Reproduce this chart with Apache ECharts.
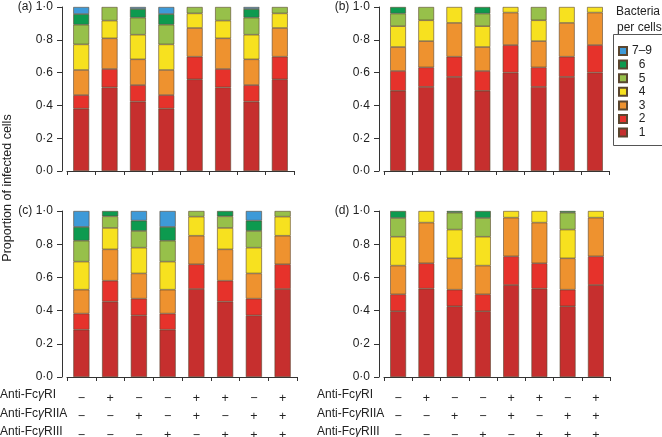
<!DOCTYPE html>
<html><head><meta charset="utf-8">
<script src="https://cdn.jsdelivr.net/npm/echarts@6/dist/echarts.min.js"></script>
<style>html,body{margin:0;padding:0;background:#fff}#c{width:662px;height:437px}</style>
</head><body><div id="c"></div>
<script>
// Categories (8 treatment combinations) and table signs
const categories = ['1','2','3','4','5','6','7','8'];
const antiRI   = ['−','+','−','−','+','+','−','+'];
const antiRIIA = ['−','−','+','−','+','−','+','+'];
const antiRIII = ['−','−','−','+','−','+','+','+'];
const rowLabels = ['RI','RIIA','RIII'];
const levels = ['1','2','3','4','5','6','7–9'];
const panelLetters = ['(a)','(b)','(c)','(d)'];
const yTicks = [0, 0.2, 0.4, 0.6, 0.8, 1.0];

// Panel (a): one array per bacteria-count level
const a1 = [0.380,0.510,0.423,0.380,0.559,0.510,0.423,0.559];
const a2 = [0.083,0.112,0.101,0.083,0.138,0.112,0.101,0.138];
const a3 = [0.153,0.187,0.157,0.153,0.175,0.187,0.157,0.175];
const a4 = [0.156,0.108,0.150,0.156,0.089,0.108,0.150,0.089];
const a5 = [0.120,0.083,0.104,0.120,0.039,0.083,0.104,0.039];
const a6 = [0.065,0,0.053,0.065,0,0,0.053,0];
const a7 = [0.043,0,0.012,0.043,0,0,0.012,0];
// Panel (b)
const b1 = [0.489,0.513,0.574,0.489,0.600,0.513,0.574,0.600];
const b2 = [0.121,0.119,0.123,0.121,0.168,0.119,0.123,0.168];
const b3 = [0.146,0.160,0.206,0.146,0.198,0.160,0.206,0.198];
const b4 = [0.127,0.127,0.097,0.127,0.034,0.127,0.097,0.034];
const b5 = [0.077,0.081,0,0.077,0,0.081,0,0];
const b6 = [0.040,0,0,0.040,0,0,0,0];
const b7 = [0,0,0,0,0,0,0,0];
// Panel (c)
const c1 = [0.285,0.454,0.371,0.285,0.530,0.454,0.371,0.530];
const c2 = [0.097,0.126,0.101,0.097,0.149,0.126,0.101,0.149];
const c3 = [0.144,0.189,0.152,0.144,0.172,0.189,0.152,0.172];
const c4 = [0.169,0.129,0.155,0.169,0.115,0.129,0.155,0.115];
const c5 = [0.126,0.070,0.101,0.126,0.034,0.070,0.101,0.034];
const c6 = [0.083,0.032,0.062,0.083,0,0.032,0.062,0];
const c7 = [0.096,0,0.058,0.096,0,0,0.058,0];
// Panel (d)
const d1 = [0.396,0.532,0.426,0.396,0.554,0.532,0.426,0.554];
const d2 = [0.102,0.153,0.100,0.102,0.173,0.153,0.100,0.173];
const d3 = [0.173,0.245,0.189,0.173,0.233,0.245,0.189,0.233];
const d4 = [0.174,0.070,0.173,0.174,0.040,0.070,0.173,0.040];
const d5 = [0.113,0,0.102,0.113,0,0,0.102,0];
const d6 = [0.042,0,0.010,0.042,0,0,0.010,0];
const d7 = [0,0,0,0,0,0,0,0];

const panels = [[a1,a2,a3,a4,a5,a6,a7],[b1,b2,b3,b4,b5,b6,b7],[c1,c2,c3,c4,c5,c6,c7],[d1,d2,d3,d4,d5,d6,d7]];
const colors = ['#c62f2e','#e6322b','#ee922f','#f7e11f','#97c04a','#0d9a4f','#3e9ad8'];

const FONT = 'Liberation Sans, Arial, sans-serif';
const grids = [
  {left:67, top:7, width:227, height:164, outerBoundsMode:'none'},
  {left:384, top:7, width:225, height:164, outerBoundsMode:'none'},
  {left:67, top:211, width:230, height:166, outerBoundsMode:'none'},
  {left:384, top:211, width:226, height:166, outerBoundsMode:'none'}
];
const fmtNum = v => v.toFixed(1).replace('.', '·');

const xAxes = grids.map((g,i) => ({
  type:'category', gridIndex:i, data:categories, offset:2,
  axisLine:{lineStyle:{color:'#333', width:1}},
  axisTick:{show:true, length:4, lineStyle:{color:'#333'}},
  axisLabel: i < 2 ? {show:false} : {
    show:true, interval:0, margin:10, fontFamily:FONT, fontSize:12.5, color:'#222', lineHeight:18.5,
    formatter:(v, idx) => antiRI[idx] + '\n' + antiRIIA[idx] + '\n' + antiRIII[idx]
  }
}));
const yAxes = grids.map((g,i) => ({
  type:'value', gridIndex:i, min:0, max:1, interval:0.2, offset:5,
  splitLine:{show:false},
  axisLine:{show:true, lineStyle:{color:'#333', width:1}},
  axisTick:{show:true, length:5, lineStyle:{color:'#333'}},
  axisLabel:{margin:9, fontFamily:FONT, fontSize:12, color:'#222',
    formatter: v => (v === 1 ? panelLetters[i] + ' ' : '') + fmtNum(v)}
}));

const series = [];
panels.forEach((p, pi) => {
  p.forEach((arr, k) => {
    series.push({
      type:'bar', name:levels[k], stack:'s'+pi, xAxisIndex:pi, yAxisIndex:pi,
      barWidth:'56%',
      data: arr.map(v => v > 0 ? v : '-'),
      itemStyle:{color:colors[k], borderColor:'#5a4630', borderWidth:0.6}
    });
  });
});

const graphics = [
  {type:'text', x:8, y:188, rotation:Math.PI/2, style:{text:'Proportion of infected cells', font:'12.5px '+FONT, fill:'#222', textAlign:'center', textVerticalAlign:'middle'}},
  {type:'text', x:616, y:12, style:{text:'Bacteria', font:'12px '+FONT, fill:'#222', textVerticalAlign:'middle'}},
  {type:'text', x:617, y:28, style:{text:'per cells', font:'12px '+FONT, fill:'#222', textVerticalAlign:'middle'}},
  {type:'rect', shape:{x:613.5, y:34.5, width:60, height:111}, style:{fill:'none', stroke:'#555', lineWidth:1}}
];
const rowY = [395, 414, 432];
[0, 317].forEach(x0 => {
  rowLabels.forEach((r, j) => {
    graphics.push({type:'text', x:x0, y:rowY[j], style:{
      text:'Anti-Fc{g|γ}' + r, font:'12px '+FONT, fill:'#222', textVerticalAlign:'middle',
      rich:{g:{fontStyle:'italic', fontFamily:FONT, fontSize:12, fill:'#222'}}
    }});
  });
});

const option = {
  animation:false,
  backgroundColor:'#fff',
  grid:grids,
  xAxis:xAxes,
  yAxis:yAxes,
  legend:{
    orient:'vertical', left:618, top:45, padding:0,
    data: levels.slice().reverse(),
    itemWidth:8, itemHeight:8, itemGap:1.6, itemTextGap:4,
    icon:'rect',
    formatter: n => '{c|' + n + '}',
    textStyle:{fontFamily:FONT, fontSize:12, color:'#222',
      rich:{c:{width:20, align:'center', height:10, lineHeight:10, fontFamily:FONT, fontSize:12, color:'#222'}}}
  },
  graphic:graphics,
  series:series
};
const chart = echarts.init(document.getElementById('c'), null, {renderer:'canvas'});
chart.setOption(option);
</script>
</body></html>
